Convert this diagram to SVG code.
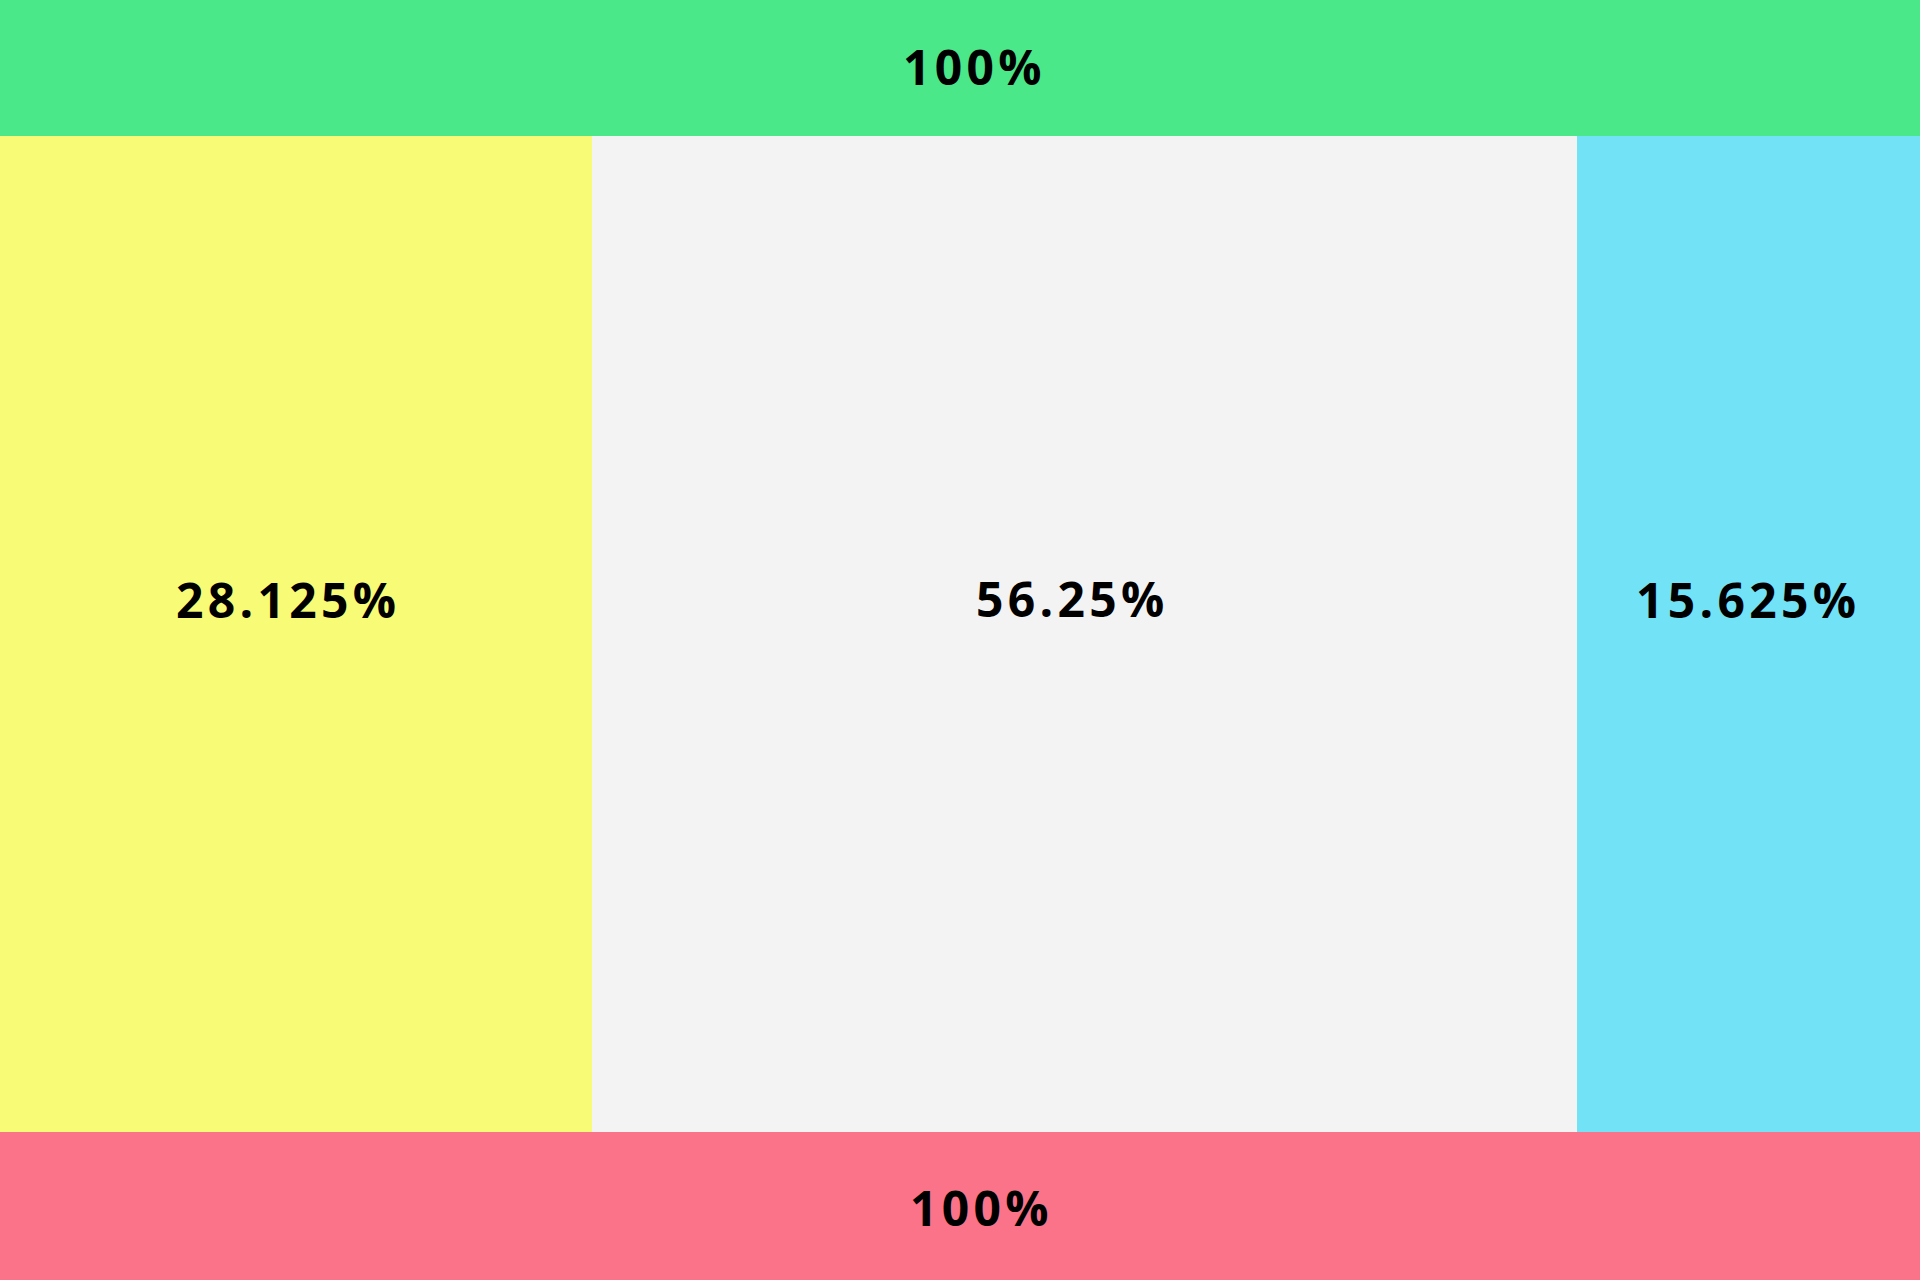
<svg xmlns="http://www.w3.org/2000/svg" width="1920" height="1280" viewBox="0 0 1920 1280">
<style>
.lbl{font-family:"Open Sans","Noto Sans",sans-serif;font-weight:700;font-size:48px;letter-spacing:4.3px;fill:#000}
</style>
<g id="top"><rect x="0" y="0" width="1920" height="136" fill="#4BE88A"/><text class="lbl" x="903" y="85">100%</text></g>
<g id="left"><rect x="0" y="136" width="592" height="996" fill="#F7FB75"/><text class="lbl" x="176" y="618">28.125%</text></g>
<g id="center"><rect x="592" y="136" width="985" height="996" fill="#F3F3F3"/><text class="lbl" x="976" y="617">56.25%</text></g>
<g id="right"><rect x="1577" y="136" width="343" height="996" fill="#72E2F7"/><text class="lbl" x="1636" y="618">15.625%</text></g>
<g id="bottom"><rect x="0" y="1132" width="1920" height="148" fill="#FA7388"/><text class="lbl" x="910" y="1226">100%</text></g>
<g id="connectors"/>
</svg>
